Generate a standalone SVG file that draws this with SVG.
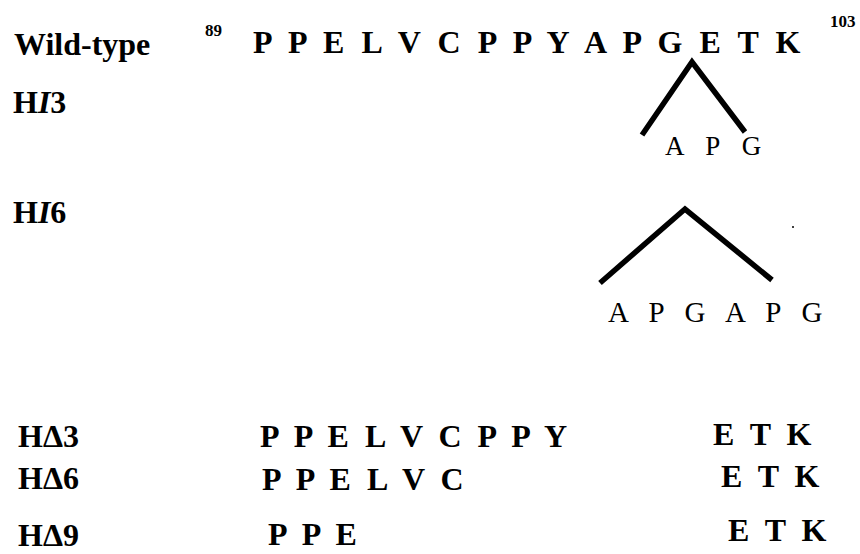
<svg xmlns="http://www.w3.org/2000/svg" width="860" height="554" viewBox="0 0 860 554">
<style>
text{font-family:"Liberation Serif","Times New Roman",serif;fill:#000}
.lbl{font-size:32px;font-weight:bold}
.seq{font-size:32px;font-weight:bold;letter-spacing:4.6px}
.seqd{font-size:32px;font-weight:bold;letter-spacing:4px}
.sup{font-size:17px;font-weight:bold}
.ins{font-size:27px;letter-spacing:7.8px}
.ins6{font-size:29px;letter-spacing:6.9px}
.caret{fill:none;stroke:#000;stroke-width:5.5;stroke-linejoin:miter;stroke-linecap:butt}
</style>
<rect width="860" height="554" fill="#fff"/>
<g id="wildtype">
<text class="lbl" x="14" y="55">Wild-type</text>
<text class="sup" x="205" y="36">89</text>
<text class="seq" x="253" y="53">P P E L V C P P Y A P G E T K</text>
<text class="sup" x="830" y="27">103</text>
</g>
<g id="HI3">
<text class="lbl" x="13" y="113">H<tspan font-style="italic">I</tspan>3</text>
<text class="ins" x="665" y="155">A P G</text>
</g>
<g id="HI6">
<text class="lbl" x="13" y="223">H<tspan font-style="italic">I</tspan>6</text>
<text class="ins6" x="608" y="322">A P G A P G</text>
<circle cx="793" cy="227" r="1" fill="#000"/>
</g>
<g id="HD3">
<text class="lbl" x="18" y="447">HΔ3</text>
<text class="seqd" x="260" y="447">P P E L V C P P Y</text>
<text class="seqd" x="713" y="445">E T K</text>
</g>
<g id="HD6">
<text class="lbl" x="18" y="489">HΔ6</text>
<text class="seqd" x="262" y="490">P P E L V C</text>
<text class="seqd" x="721" y="487">E T K</text>
</g>
<g id="HD9">
<text class="lbl" x="18" y="546">HΔ9</text>
<text class="seqd" x="268" y="545">P P E</text>
<text class="seqd" x="728" y="541">E T K</text>
</g>
<g id="connectors">
<polyline class="caret" points="642,135 692,62 745,132"/>
<polyline class="caret" points="600,283 685,209 772,280"/>
</g>
</svg>
